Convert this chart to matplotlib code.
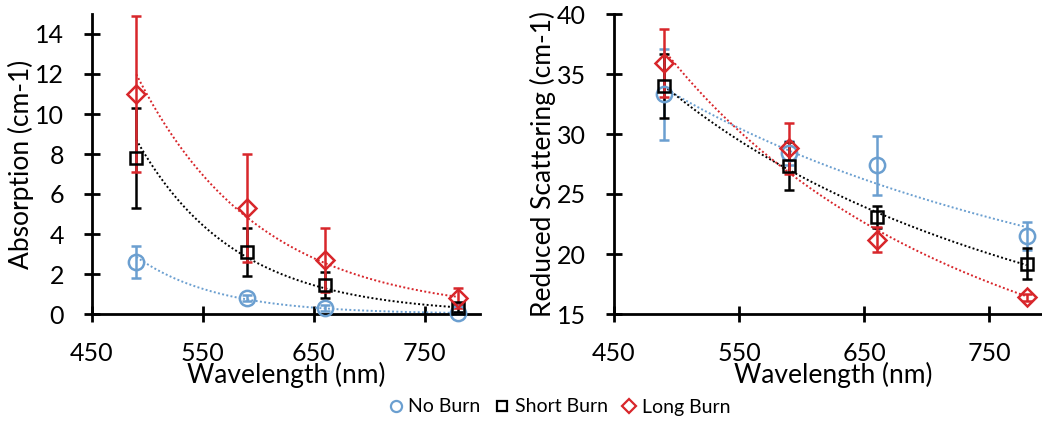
import matplotlib
matplotlib.use("Agg")
import matplotlib.pyplot as plt
from matplotlib.lines import Line2D
import numpy as np

plt.rcParams['font.family'] = ['Lato', 'DejaVu Sans']

# data
wavelength = [490, 590, 660, 780]
series = ["No Burn", "Short Burn", "Long Burn"]

abs_no = [2.6, 0.8, 0.3, 0.05]
abs_no_err = [0.8, 0.15, 0.15, 0.05]
abs_short = [7.8, 3.1, 1.45, 0.3]
abs_short_err = [2.5, 1.2, 0.65, 0.2]
abs_long = [11.0, 5.3, 2.7, 0.8]
abs_long_err = [3.9, 2.7, 1.6, 0.5]

sca_no = [33.3, 28.4, 27.4, 21.5]
sca_no_err = [3.8, 1.0, 2.45, 1.2]
sca_short = [34.0, 27.3, 23.1, 19.2]
sca_short_err = [2.65, 2.0, 0.9, 1.3]
sca_long = [35.9, 28.8, 21.2, 16.4]
sca_long_err = [2.85, 2.1, 1.05, 0.3]

colors = ["#6b9fd0", "#000000", "#d8262b"]
markers = ["o", "s", "D"]
msizes = [11, 9, 9.5]

W, H = 1042, 421
fig = plt.figure(figsize=(W / 100, H / 100), dpi=100)

ax1 = fig.add_axes([92 / W, (H - 314) / H, 388 / W, 300 / H])
ax2 = fig.add_axes([614 / W, (H - 314) / H, 437.5 / W, 300 / H])

x = np.array(wavelength, dtype=float)
xf = np.linspace(490, 780, 200)


def draw(ax, vals, errs, kind):
    for i, (v, e) in enumerate(zip(vals, errs)):
        v = np.array(v)
        # excel-style trendline
        if kind == "exp":
            b, a = np.polyfit(x, np.log(v), 1)
            yf = np.exp(a + b * xf)
        else:
            b, a = np.polyfit(np.log(x), np.log(v), 1)
            yf = np.exp(a) * xf ** b
        ax.plot(xf, yf, ls=(0, (1, 1.2)), lw=1.4, color=colors[i], zorder=2)
        ax.errorbar(x, v, yerr=e, fmt=markers[i], ms=msizes[i], mfc="none",
                    mec=colors[i], mew=1.8, ecolor=colors[i], elinewidth=1.8,
                    capsize=3.5, capthick=1.8, zorder=3, clip_on=False)


draw(ax1, [abs_no, abs_short, abs_long], [abs_no_err, abs_short_err, abs_long_err], "exp")
draw(ax2, [sca_no, sca_short, sca_long], [sca_no_err, sca_short_err, sca_long_err], "pow")

ax1.set_ylim(0, 15)
ax1.set_yticks([0, 2, 4, 6, 8, 10, 12, 14])
ax1.set_ylabel("Absorption (cm-1)", fontsize=19, labelpad=1)
ax2.set_ylim(15, 40)
ax2.set_yticks([15, 20, 25, 30, 35, 40])
ax2.set_ylabel("Reduced Scattering (cm-1)", fontsize=19, labelpad=1)

for ax in (ax1, ax2):
    ax.set_xlim(450, 800)
    ax.set_xticks([450, 550, 650, 750])
    ax.set_xlabel("Wavelength (nm)", fontsize=19, labelpad=-2)
    for s in ("top", "right"):
        ax.spines[s].set_visible(False)
    for s in ("left", "bottom"):
        ax.spines[s].set_linewidth(2)
    ax.tick_params(direction="inout", length=12, width=2, labelsize=18, pad=14)
    ax.patch.set_alpha(0)

handles = [Line2D([], [], ls="none", marker=markers[i], ms=[8, 6.5, 7][i],
                  mfc="none", mec=colors[i], mew=1.6) for i in range(3)]
fig.legend(handles, series, loc="center", bbox_to_anchor=(557 / W, (H - 407) / H),
           ncol=3, frameon=False, fontsize=14, handletextpad=0.05,
           columnspacing=0.5, handlelength=1.2)

fig.savefig("out.png", dpi=100)
